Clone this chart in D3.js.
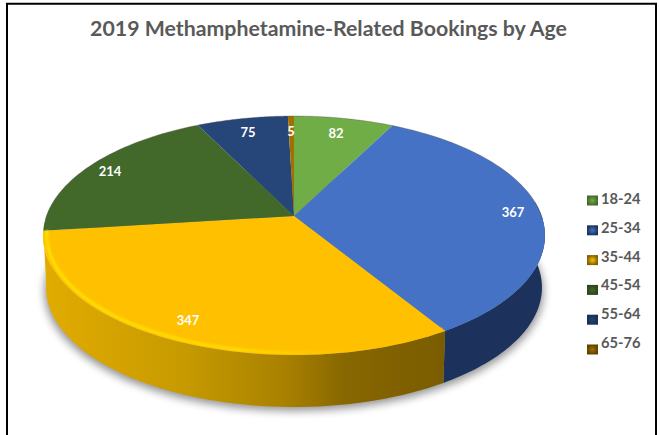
<!DOCTYPE html>
<html><head><meta charset="utf-8">
<script src="https://cdn.jsdelivr.net/npm/d3@7"></script>
<style>html,body{margin:0;padding:0;background:#fff}svg{display:block}text{font-family:Lato,"Open Sans",sans-serif;font-weight:700}</style>
</head><body><svg id="c" width="660" height="435"></svg>
<script>
const titleText = "2019 Methamphetamine-Related Bookings by Age";
const categories = ["18-24","25-34","35-44","45-54","55-64","65-76"];
const values = [82,367,347,214,75,5];
const topColors = ["#70ad47","#4472c4","#ffc000","#43682b","#264478","#a07000"];
const sideDark = ["#43682b","#1c325c","#7f6000","#2c451c","#1a2e52","#5f4200"];

const svg = d3.select("#c");
const defs = svg.append("defs");
const mkBlur=(id,s)=>{const f=defs.append("filter").attr("id",id).attr("x","-10%").attr("y","-10%").attr("width","120%").attr("height","120%");f.append("feGaussianBlur").attr("stdDeviation",s);};
mkBlur("sh",4.5); mkBlur("bv",1.3); mkBlur("soft",0.55);

// side gradient of the front-left wedge
const gy = defs.append("linearGradient").attr("id","gy").attr("gradientUnits","userSpaceOnUse").attr("x1",43).attr("x2",445).attr("y1",0).attr("y2",0);
[[0,"#e2ac00"],[0.35,"#c79a00"],[0.6,"#a98100"],[0.75,"#876700"],[1,"#7a5c00"]].forEach(d=>gy.append("stop").attr("offset",d[0]).attr("stop-color",d[1]));
const gr = defs.append("linearGradient").attr("id","gr").attr("gradientUnits","userSpaceOnUse").attr("x1",43).attr("x2",350).attr("y1",0).attr("y2",0);
[[0,"#ffe600"],[0.65,"#ffdf00"],[1,"#ffc000"]].forEach(d=>gr.append("stop").attr("offset",d[0]).attr("stop-color",d[1]));

// perspective disc
const cx=294, cy=216, a=116.3, b=247.6, k=-0.1634, depth=52;
const proj=(t,s=1,dy=0,sc=1)=>{const u=Math.sin(t)*s,v=-Math.cos(t)*s,w=1+k*v;return [cx+sc*b*u/w,cy+dy+a*v/w];};
const arcs=d3.pie().sort(null)(values);
const samples=(t0,t1)=>d3.range(0,61).map(i=>t0+(t1-t0)*i/60);
const line=d3.line();

// frame
svg.append("path").attr("d","M7,440V3.7H656V440").attr("fill","none").attr("stroke","#000").attr("stroke-width",2);

// soft shadow
const fullT=samples(0,2*Math.PI);
svg.append("path").attr("d",line(fullT.map(t=>proj(t,1,depth+4,0.995)))+"Z").attr("fill","#000").attr("opacity",0.42).attr("filter","url(#sh)");

const pie3d=svg.append("g").attr("filter","url(#soft)");
// side walls: only the two front wedges show a wall
arcs.forEach((d,i)=>{
  if(i!==1&&i!==2) return;
  const t0=Math.max(d.startAngle,Math.PI/2-0.12), t1=Math.min(d.endAngle,Math.PI*1.5+0.12);
  const ts=samples(t0,t1);
  const pts=ts.map(t=>proj(t)).concat(ts.slice().reverse().map(t=>proj(t,1,depth,0.988)));
  pie3d.append("path").attr("d",line(pts)+"Z").attr("fill",i===2?"url(#gy)":sideDark[i]);
});

// top faces
arcs.forEach((d,i)=>{
  const pts=[proj(0,0)].concat(samples(d.startAngle,d.endAngle).map(t=>proj(t)));
  pie3d.append("path").attr("d",line(pts)+"Z").attr("fill",topColors[i]);
});

// bevel glow along the yellow front rim
const clip=defs.append("clipPath").attr("id","top");
clip.append("path").attr("d",line(fullT.map(t=>proj(t)))+"Z");
const rim=svg.append("g").attr("clip-path","url(#top)");
{
  const d=arcs[2];
  rim.append("path").attr("d",line(samples(d.startAngle,d.endAngle).map(t=>proj(t,0.985)))).attr("fill","none").attr("filter","url(#bv)")
    .attr("stroke","url(#gr)").attr("stroke-width",2.6);
}
// thin back outline
svg.append("path").attr("d",line(samples(-1.6,1.6).map(t=>proj(t)))).attr("fill","none").attr("stroke","#555").attr("stroke-width",0.7).attr("opacity",0.55);

// data labels
const labelPos=[[336,133],[513,212],[188,320],[110,171],[248,132],[291,131]];
svg.append("g").selectAll("text").data(values).join("text")
  .attr("x",(d,i)=>labelPos[i][0]).attr("y",(d,i)=>labelPos[i][1]+4.5)
  .attr("text-anchor","middle").attr("fill","#fff").attr("font-size",13).text(d=>d);

// title
svg.append("text").attr("x",328.5).attr("y",36).attr("text-anchor","middle").attr("fill","#595959").attr("font-size",21.3).text(titleText);

// legend
const leg=svg.append("g");
const yText=d3.scalePoint().domain(categories).range([199,343]);
const ySwatch=d3.scalePoint().domain(categories).range([200.5,349.5]);
categories.forEach((c,i)=>{
  const id="sw"+i, g=defs.append("radialGradient").attr("id",id);
  g.append("stop").attr("offset",0).attr("stop-color",topColors[i]);
  g.append("stop").attr("offset",1).attr("stop-color",sideDark[i]);
  leg.append("rect").attr("x",587).attr("y",ySwatch(c)-5).attr("width",11).attr("height",10).attr("fill",`url(#${id})`);
  leg.append("text").attr("x",601).attr("y",yText(c)+5).attr("fill","#595959").attr("font-size",14.7).text(c);
});
</script></body></html>
